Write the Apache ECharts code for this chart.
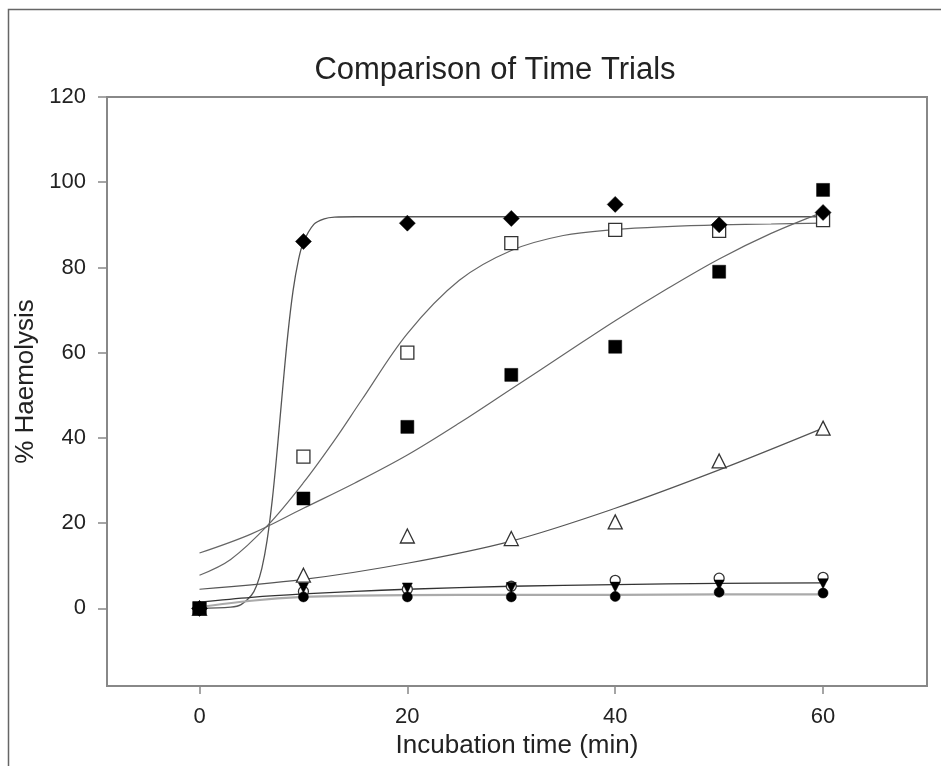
<!DOCTYPE html>
<html><head><meta charset="utf-8">
<script src="https://cdn.jsdelivr.net/npm/echarts@6/dist/echarts.min.js"></script>
<style>html,body{margin:0;padding:0;background:#fff}#c{width:941px;height:766px}</style>
</head><body><div id="c"></div>
<script>
// ---- data ----
const timeMin = [0, 10, 20, 30, 40, 50, 60];
const diamondFilled = [0, 86.1, 90.4, 91.5, 94.8, 90.0, 92.9];
const squareOpen = [0, 35.6, 60.0, 85.7, 88.8, 88.6, 91.1];
const squareFilled = [0, 25.8, 42.6, 54.8, 61.4, 79.0, 98.2];
const triangleOpen = [0, 7.8, 17.0, 16.4, 20.3, 34.6, 42.3];
const circleOpen = [0, 4.0, 4.5, 5.2, 6.6, 7.1, 7.3];
const triangleDownFilled = [0, 4.8, 4.8, 4.9, 5.0, 5.5, 5.8];
const circleFilled = [0, 2.7, 2.7, 2.7, 2.8, 3.8, 3.6];

// fitted curves, points
const fitDiamondX = [0, 3, 4, 5, 5.5, 6, 6.5, 7, 7.5, 8, 8.5, 9, 9.5, 10, 11, 12, 13, 15, 20, 30, 40, 50, 60];
const fitDiamondY = [0, 0.3, 0.9, 3.1, 5.4, 9.4, 15.9, 25.4, 37.8, 51.5, 64.3, 74.5, 81.5, 85.9, 90.1, 91.4, 91.8, 91.9, 91.9, 91.9, 91.9, 91.9, 91.9];
const fitSquareOpenX = [0, 3, 6.6, 10, 13, 15.6, 20, 25, 30, 35, 40, 45, 50, 55, 60];
const fitSquareOpenY = [7.8, 11.5, 19.6, 29.5, 39.5, 48.9, 64.5, 77, 84, 87.5, 88.9, 89.6, 90, 90.2, 90.4];
const fitSquareFilledX = [0, 5, 10, 15, 20, 25, 30, 35, 40, 45, 50, 55, 60];
const fitSquareFilledY = [13, 17.5, 23.5, 29.5, 36, 43.5, 51.5, 59.5, 67.5, 75, 82, 88, 93];
const fitTriangleX = [0, 10, 20, 30, 40, 50, 60];
const fitTriangleY = [4.5, 6.8, 10.6, 15.8, 23.5, 32.5, 42.3];
const fitLowAX = [0, 5, 10, 15, 20, 30, 40, 50, 60];
const fitLowAY = [1.5, 2.6, 3.4, 4.0, 4.5, 5.2, 5.6, 5.9, 6.0];
const fitLowBX = [0, 5, 10, 15, 20, 30, 40, 50, 60];
const fitLowBY = [0.3, 1.8, 2.7, 3.0, 3.1, 3.2, 3.2, 3.3, 3.3];

const xTicks = [0, 20, 40, 60];
const yTicks = [0, 20, 40, 60, 80, 100, 120];

const FONT = "'Liberation Sans', Arial, sans-serif";
const pairs = (xs, ys) => xs.map((x, i) => [x, ys[i]]);

function fit(xs, ys, color, width) {
  return {
    type: 'line', data: pairs(xs, ys), smooth: 0.35,
    showSymbol: false, symbol: 'none', silent: true, z: 2,
    lineStyle: { color: color, width: width }
  };
}
function pts(ys, symbol, size, filled, rotate) {
  return {
    type: 'scatter', data: pairs(timeMin, ys), symbol: symbol, symbolSize: size,
    symbolRotate: rotate || 0, z: 5,
    itemStyle: filled ? { color: '#000', borderColor: '#000', borderWidth: 0.5, opacity: 1 }
                      : { color: '#fff', borderColor: '#333', borderWidth: 1.3, opacity: 1 }
  };
}

const chart = echarts.init(document.getElementById('c'));
chart.setOption({
  animation: false,
  backgroundColor: '#fff',
  title: {
    text: 'Comparison of Time Trials', left: 490, textAlign: 'center', top: 50,
    textStyle: { fontSize: 31, fontWeight: 'normal', color: '#222', fontFamily: FONT }
  },
  graphic: [{
    type: 'rect', silent: true, z: -1,
    shape: { x: 8.5, y: 9.5, width: 1000, height: 1000 },
    style: { fill: 'none', stroke: '#666', lineWidth: 1.5 }
  }],
  grid: { left: 107, right: 14, top: 97, bottom: 80, show: true, borderColor: '#888', borderWidth: 2 },
  xAxis: {
    type: 'value', min: -8.9, max: 70,
    name: 'Incubation time (min)', nameLocation: 'middle', nameGap: 46,
    nameTextStyle: { fontSize: 26, color: '#222', fontFamily: FONT },
    axisLine: { show: true, onZero: false, lineStyle: { color: '#888', width: 2 } },
    axisTick: { show: true, customValues: xTicks, length: 8, lineStyle: { color: '#888', width: 1.5 } },
    axisLabel: { customValues: xTicks, fontSize: 22, color: '#222', margin: 20, fontFamily: FONT },
    splitLine: { show: false }
  },
  yAxis: {
    type: 'value', min: -18.2, max: 120,
    name: '% Haemolysis', nameLocation: 'middle', nameGap: 60,
    nameTextStyle: { fontSize: 26, color: '#222', fontFamily: FONT, padding: [0, 0, 0, 20] },
    axisLine: { show: true, onZero: false, lineStyle: { color: '#888', width: 2 } },
    axisTick: { show: true, customValues: yTicks, length: 9, lineStyle: { color: '#888', width: 1.5 } },
    axisLabel: { customValues: yTicks, fontSize: 22, color: '#222', margin: 21, fontFamily: FONT },
    splitLine: { show: false }
  },
  series: [
    fit(fitDiamondX, fitDiamondY, '#555', 1.3),
    fit(fitSquareOpenX, fitSquareOpenY, '#666', 1.2),
    fit(fitSquareFilledX, fitSquareFilledY, '#666', 1.2),
    fit(fitTriangleX, fitTriangleY, '#555', 1.2),
    fit(fitLowBX, fitLowBY, '#aaa', 2.2),
    fit(fitLowAX, fitLowAY, '#333', 1.3),
    pts(triangleOpen, 'triangle', 14, false),
    pts(squareOpen, 'rect', 13, false),
    pts(circleOpen, 'circle', 10, false),
    pts(squareFilled, 'rect', 13, true),
    pts(diamondFilled, 'diamond', 16, true),
    pts(triangleDownFilled, 'triangle', 10, true, 180),
    pts(circleFilled, 'circle', 10, true)
  ]
});
</script>
</body></html>
